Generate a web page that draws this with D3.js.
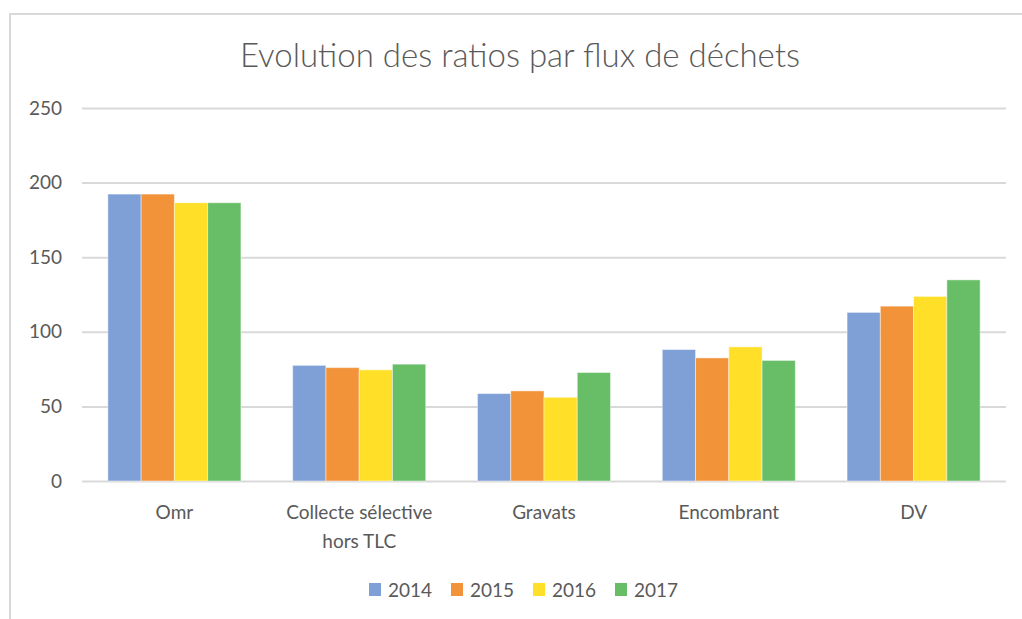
<!DOCTYPE html>
<html>
<head>
<meta charset="utf-8">
<script src="https://cdn.jsdelivr.net/npm/d3@7"></script>
<style>
  body { margin: 0; background: #fff; }
  text { font-family: Lato, "Open Sans", sans-serif; fill: #595959; }
</style>
</head>
<body>
<div id="chart"></div>
<script>
const categories = ['Omr', 'Collecte sélective\nhors TLC', 'Gravats', 'Encombrant', 'DV']
const years = ['2014', '2015', '2016', '2017']
const values2014 = [192.3, 77.5, 58.6, 88.1, 113]
const values2015 = [192.3, 76, 60.4, 82.5, 117.2]
const values2016 = [186.5, 74.5, 56.1, 89.9, 123.7]
const values2017 = [186.5, 78.3, 72.7, 80.8, 134.8]
const yTicks = [0, 50, 100, 150, 200, 250]
const colors = ['#7f9fd7', '#f2933a', '#ffdf27', '#67be66']

const series = [values2014, values2015, values2016, values2017]

const svg = d3.select('#chart')
  .append('svg')
  .attr('width', 1022)
  .attr('height', 619)

// chart frame
svg.append('rect')
  .attr('x', 10)
  .attr('y', 14)
  .attr('width', 1030)
  .attr('height', 640)
  .attr('fill', 'none')
  .attr('stroke', '#d9d9d9')
  .attr('stroke-width', 2)

svg.append('text')
  .attr('x', 520)
  .attr('y', 67)
  .attr('text-anchor', 'middle')
  .style('font-size', '33px')
  .style('font-weight', 300)
  .text('Evolution des ratios par flux de déchets')

const x0 = d3.scaleBand()
  .domain(categories)
  .range([82, 1006])
  .paddingInner(0.28)
  .paddingOuter(0.14)

const x1 = d3.scaleBand()
  .domain(years)
  .range([0, x0.bandwidth()])

const y = d3.scaleLinear()
  .domain([0, 250])
  .range([481, 108])

// gridlines
const yAxis = d3.axisLeft(y)
  .tickValues(yTicks)
  .tickSize(-(1006 - 82))
  .tickPadding(20)

const yG = svg.append('g')
  .attr('transform', 'translate(82,0)')
  .call(yAxis)
yG.select('.domain').remove()
yG.selectAll('line').attr('stroke', '#d9d9d9').attr('stroke-width', 2)
yG.selectAll('text')
  .attr('fill', '#595959')
  .style('font-size', '19px')
  .style('font-family', 'Lato, sans-serif')

const groups = svg.append('g')
  .selectAll('g')
  .data(categories)
  .enter().append('g')
  .attr('transform', d => `translate(${x0(d)},0)`)

groups.selectAll('rect')
  .data((d, i) => years.map((yr, j) => ({ yr, v: series[j][i] })))
  .enter().append('rect')
  .attr('x', d => x1(d.yr))
  .attr('y', d => y(d.v))
  .attr('width', x1.bandwidth())
  .attr('height', d => y(0) - y(d.v))
  .attr('fill', (d, j) => colors[j])
  .attr('stroke', 'rgba(255,255,255,0.45)')
  .attr('stroke-width', 1)

// category labels
const catLabels = svg.append('g')
  .selectAll('text')
  .data(categories)
  .enter().append('text')
  .attr('x', d => x0(d) + x0.bandwidth() / 2)
  .attr('y', 519)
  .attr('text-anchor', 'middle')
  .style('font-size', '19px')

catLabels.selectAll('tspan')
  .data(d => d.split('\n'))
  .enter().append('tspan')
  .attr('x', function () { return d3.select(this.parentNode).attr('x') })
  .attr('dy', (d, i) => i === 0 ? 0 : 29)
  .text(d => d)

// legend
const legend = svg.append('g')
  .selectAll('g')
  .data(years)
  .enter().append('g')
  .attr('transform', (d, i) => `translate(${369 + i * 82},583)`)

legend.append('rect')
  .attr('width', 12)
  .attr('height', 13)
  .attr('fill', (d, i) => colors[i])

legend.append('text')
  .attr('x', 19)
  .attr('y', 14)
  .style('font-size', '19px')
  .text(d => d)
</script>
</body>
</html>
